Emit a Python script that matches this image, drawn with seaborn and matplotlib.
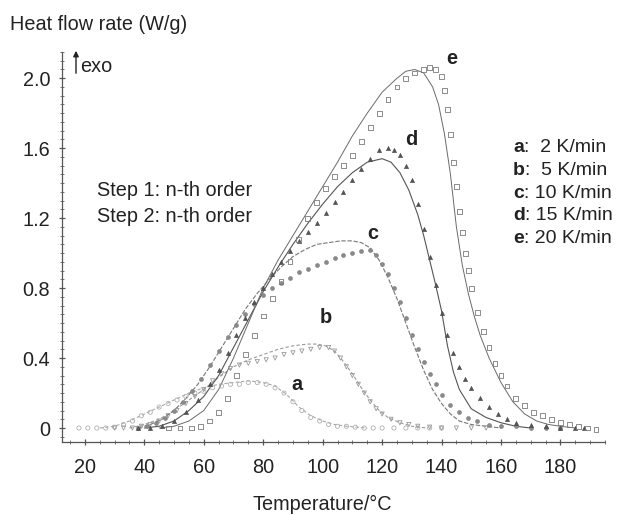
import numpy as np
import pandas as pd
import seaborn as sns
import matplotlib.pyplot as plt
from matplotlib.ticker import MultipleLocator

# measured points (markers) and fitted curves (lines), heat flow in W/g vs temperature in degC
a_T = [18, 21, 24, 27, 30, 33, 36, 39, 42, 45, 48, 51, 54, 57, 60, 63, 66, 69, 72, 75, 78, 81,
       84, 87, 90, 93, 96, 99, 102, 105, 108, 111, 114, 117, 120, 124, 128, 132, 136, 140]
a_H = [0.0, 0.0, 0.0, 0.0, 0.005, 0.02, 0.04, 0.07, 0.09, 0.12, 0.14, 0.16, 0.18, 0.20, 0.21, 0.23,
       0.24, 0.25, 0.25, 0.26, 0.26, 0.25, 0.23, 0.20, 0.15, 0.10, 0.06, 0.04, 0.02, 0.01, 0.01,
       0.005, 0.0, 0.0, 0.0, 0.0, 0.0, 0.0, 0.0, 0.0]
a_fit_T = [25, 30, 35, 40, 45, 50, 55, 60, 65, 70, 75, 80, 84, 88, 92, 96, 100, 104, 108, 115]
a_fit_H = [0.0, 0.01, 0.04, 0.08, 0.12, 0.16, 0.20, 0.23, 0.25, 0.26, 0.27, 0.26, 0.24, 0.19,
           0.12, 0.07, 0.04, 0.02, 0.01, 0.0]

b_T = [30, 33, 36, 39, 42, 45, 48, 51, 54, 57, 60, 63, 66, 69, 72, 75, 78, 81, 84, 87, 90, 93,
       96, 99, 102, 104, 106, 108, 110, 112, 114, 116, 118, 120, 123, 126, 129, 132, 136, 140,
       145, 150, 155]
b_H = [0.0, 0.0, 0.0, 0.01, 0.02, 0.04, 0.07, 0.10, 0.14, 0.18, 0.22, 0.27, 0.31, 0.34, 0.36,
       0.37, 0.38, 0.39, 0.40, 0.42, 0.43, 0.44, 0.45, 0.46, 0.46, 0.44, 0.40, 0.35, 0.30, 0.25,
       0.20, 0.15, 0.11, 0.08, 0.05, 0.03, 0.02, 0.01, 0.005, 0.0, 0.0, 0.0, 0.0]
b_fit_T = [35, 40, 45, 50, 55, 60, 65, 70, 75, 80, 85, 90, 95, 98, 101, 104, 107, 110, 113, 116,
           119, 122, 126, 130, 135]
b_fit_H = [0.0, 0.02, 0.05, 0.10, 0.16, 0.22, 0.29, 0.35, 0.39, 0.42, 0.45, 0.47, 0.48, 0.48,
           0.47, 0.44, 0.38, 0.31, 0.23, 0.16, 0.10, 0.06, 0.03, 0.01, 0.0]

c_T = [38, 41, 44, 47, 50, 53, 56, 59, 62, 65, 68, 71, 74, 77, 80, 83, 86, 89, 92, 95, 98, 101,
       104, 107, 110, 113, 116, 118, 120, 122, 124, 126, 128, 130, 132, 134, 136, 138, 140, 143,
       146, 149, 152, 156, 160, 165, 170, 175, 180]
c_H = [0.0, 0.01, 0.03, 0.06, 0.10, 0.15, 0.21, 0.28, 0.36, 0.44, 0.52, 0.59, 0.65, 0.71, 0.76,
       0.80, 0.83, 0.86, 0.89, 0.91, 0.93, 0.95, 0.97, 0.99, 1.00, 1.01, 1.02, 0.99, 0.94, 0.88,
       0.80, 0.72, 0.63, 0.53, 0.45, 0.38, 0.31, 0.25, 0.19, 0.13, 0.09, 0.06, 0.04, 0.02, 0.01,
       0.01, 0.0, 0.0, 0.0]
c_fit_T = [38, 42, 46, 50, 54, 58, 62, 66, 70, 74, 78, 82, 86, 90, 94, 98, 102, 106, 110, 113,
           116, 119, 122, 125, 128, 131, 134, 137, 140, 143, 146, 150, 155, 160]
c_fit_H = [0.0, 0.02, 0.05, 0.10, 0.17, 0.25, 0.35, 0.46, 0.57, 0.68, 0.77, 0.85, 0.92, 0.98,
           1.02, 1.05, 1.06, 1.07, 1.07, 1.06, 1.03, 0.96, 0.86, 0.74, 0.60, 0.46, 0.33, 0.22,
           0.14, 0.08, 0.04, 0.02, 0.01, 0.0]

d_T = [38, 42, 46, 50, 54, 58, 62, 65, 68, 71, 74, 77, 80, 83, 86, 89, 92, 95, 98, 101, 104, 107,
       110, 113, 116, 119, 122, 124, 126, 128, 130, 132, 134, 136, 138, 140, 142, 144, 146, 148,
       150, 153, 156, 159, 162, 165, 170, 175, 180, 185, 188]
d_H = [0.0, 0.0, 0.01, 0.04, 0.09, 0.16, 0.25, 0.33, 0.43, 0.53, 0.63, 0.72, 0.80, 0.88, 0.95,
       1.01, 1.07, 1.12, 1.17, 1.23, 1.29, 1.35, 1.42, 1.48, 1.54, 1.59, 1.60, 1.59, 1.56, 1.50,
       1.42, 1.28, 1.14, 0.98, 0.82, 0.66, 0.53, 0.43, 0.35, 0.28, 0.23, 0.17, 0.12, 0.08, 0.05,
       0.03, 0.02, 0.01, 0.0, 0.0, 0.0]
d_fit_T = [40, 45, 50, 55, 60, 65, 70, 75, 80, 85, 90, 95, 100, 105, 110, 115, 120, 123, 126,
           129, 132, 134, 136, 138, 140, 142, 144, 146, 150, 155, 160, 165, 170]
d_fit_H = [0.0, 0.01, 0.04, 0.10, 0.18, 0.30, 0.46, 0.62, 0.78, 0.92, 1.05, 1.17, 1.28, 1.38,
           1.46, 1.52, 1.54, 1.52, 1.46, 1.36, 1.22, 1.10, 0.96, 0.82, 0.67, 0.47, 0.32, 0.22,
           0.11, 0.06, 0.03, 0.01, 0.0]

e_T = [48, 52, 56, 59, 62, 65, 68, 71, 74, 77, 80, 83, 86, 89, 92, 95, 98, 101, 104, 107, 110,
       113, 116, 119, 122, 125, 128, 131, 134, 136, 138, 140, 141, 142, 143, 144, 145, 146, 147,
       148, 149, 150, 152, 154, 156, 158, 160, 162, 165, 168, 171, 174, 177, 180, 183, 186, 189,
       192]
e_H = [0.0, 0.0, 0.0, 0.01, 0.04, 0.09, 0.17, 0.30, 0.42, 0.53, 0.64, 0.74, 0.84, 0.95, 1.08,
       1.20, 1.29, 1.37, 1.44, 1.50, 1.56, 1.64, 1.72, 1.80, 1.88, 1.95, 2.00, 2.03, 2.05, 2.06,
       2.05, 2.01, 1.93, 1.82, 1.68, 1.52, 1.38, 1.24, 1.12, 1.00, 0.90, 0.80, 0.66, 0.55, 0.46,
       0.37, 0.30, 0.24, 0.17, 0.13, 0.09, 0.07, 0.05, 0.03, 0.02, 0.01, 0.0, -0.01]
e_fit_T = [45, 50, 55, 60, 65, 70, 75, 80, 85, 90, 95, 100, 105, 110, 115, 120, 125, 128, 131,
           134, 137, 139, 141, 143, 145, 147, 149, 151, 153, 156, 160, 164, 168, 172, 176, 180, 185]
e_fit_H = [0.0, 0.01, 0.04, 0.10, 0.22, 0.40, 0.60, 0.80, 0.96, 1.10, 1.24, 1.38, 1.52, 1.67,
           1.80, 1.92, 2.00, 2.04, 2.05, 2.03, 1.95, 1.85, 1.68, 1.45, 1.15, 0.93, 0.77, 0.64,
           0.53, 0.40, 0.26, 0.15, 0.08, 0.04, 0.02, 0.01, 0.0]

letters = ['a', 'b', 'c', 'd', 'e']
rates = ['2 K/min', '5 K/min', '10 K/min', '15 K/min', '20 K/min']

sns.set_style("ticks")
plt.rcParams['font.family'] = ['Liberation Sans', 'DejaVu Sans']

W, H = 622, 515
FS = 14.3
fig = plt.figure(figsize=(W / 100, H / 100), dpi=100)
ax = fig.add_axes([62 / W, 1 - 442 / H, (605 - 62) / W, (442 - 52) / H])


def px(x, y):
    return x / W, 1 - y / H


# (marker data, fit line, marker style, line style)
series = [
    (a_T, a_H, a_fit_T, a_fit_H, dict(marker='o', s=9, fc='none', ec='#b0b0b0', lw=0.6),
     dict(color='#a8a8a8', lw=0.8, ls=(0, (3, 2)))),
    (b_T, b_H, b_fit_T, b_fit_H, dict(marker='v', s=9, fc='none', ec='#9a9a9a', lw=0.6),
     dict(color='#9a9a9a', lw=0.8, ls=(0, (3, 2)))),
    (c_T, c_H, c_fit_T, c_fit_H, dict(marker='o', s=8, fc='#8a8a8a', ec='#7a7a7a', lw=0.4),
     dict(color='#777777', lw=0.8, ls=(0, (4, 1.5)))),
    (d_T, d_H, d_fit_T, d_fit_H, dict(marker='^', s=9, fc='#555555', ec='#444444', lw=0.4),
     dict(color='#555555', lw=0.8, ls='-')),
    (e_T, e_H, e_fit_T, e_fit_H, dict(marker='s', s=12, fc='none', ec='#7a7a7a', lw=0.6),
     dict(color='#6a6a6a', lw=0.7, ls='-')),
]

for T, Hd, fT, fH, mk, ln in series:
    sns.lineplot(x=fT, y=fH, ax=ax, color=ln['color'], linewidth=ln['lw'],
                 linestyle=ln['ls'], zorder=2)
    sns.scatterplot(x=T, y=Hd, ax=ax, marker=mk['marker'], s=mk['s'],
                    facecolor=mk['fc'], edgecolor=mk['ec'], linewidth=mk['lw'], zorder=3)

ax.set_xlim(12.3, 195)
ax.set_ylim(-0.08, 2.15)
ax.set_xticks([20, 40, 60, 80, 100, 120, 140, 160, 180])
ax.set_yticks([0, 0.4, 0.8, 1.2, 1.6, 2.0])
ax.set_yticklabels(['0', '0.4', '0.8', '1.2', '1.6', '2.0'])
ax.xaxis.set_minor_locator(MultipleLocator(5))
ax.yaxis.set_minor_locator(MultipleLocator(0.05))
ax.tick_params(axis='both', which='major', labelsize=FS, length=5, width=0.9,
               color='#555555', labelcolor='#222222', direction='inout')
ax.tick_params(axis='both', which='minor', length=3, width=0.7, color='#777777',
               direction='inout')
ax.tick_params(axis='x', pad=9)
ax.tick_params(axis='y', pad=6)
sns.despine(ax=ax)
for sp in ['left', 'bottom']:
    ax.spines[sp].set_color('#555555')
    ax.spines[sp].set_linewidth(0.9)
ax.set_xlabel('')
ax.set_ylabel('')

fig.text(*px(10, 25), 'Heat flow rate (W/g)', fontsize=FS, color='#222222',
         ha='left', va='center')
fig.text(*px(322, 504), 'Temperature/°C', fontsize=FS, color='#222222',
         ha='center', va='center')
fig.text(*px(80, 66), 'exo', fontsize=FS, color='#222222', ha='left', va='center')
ax.annotate('', xy=px(76, 48), xytext=px(76, 76), xycoords='figure fraction',
            textcoords='figure fraction',
            arrowprops=dict(arrowstyle='-|>', color='#222222', lw=1.0, mutation_scale=8))

fig.text(*px(97, 191), 'Step 1: n-th order', fontsize=FS, color='#222222',
         ha='left', va='center')
fig.text(*px(97, 216), 'Step 2: n-th order', fontsize=FS, color='#222222',
         ha='left', va='center')

# curve labels
curve_label_pos = [(91.5, 0.25), (101, 0.63), (117, 1.11), (129.7, 1.65), (143.5, 2.11)]
for lt, (tx, ty) in zip(letters, curve_label_pos):
    ax.text(tx, ty, lt, fontsize=FS, fontweight='bold', color='#222222',
            ha='center', va='center')

# rate legend
fig.canvas.draw()
renderer = fig.canvas.get_renderer()
leg_y = [147, 170, 193, 216, 239]
for lt, rt, yy in zip(letters, rates, leg_y):
    t = fig.text(*px(513, yy), lt, fontsize=14, fontweight='bold', color='#222222',
                 ha='left', va='center')
    bb = t.get_window_extent(renderer)
    gap = ':  ' if len(rt) == 7 else ': '
    fig.text(bb.x1 / W, 1 - yy / H, gap + rt, fontsize=14, color='#222222',
             ha='left', va='center')

fig.savefig('out.png', dpi=100)
